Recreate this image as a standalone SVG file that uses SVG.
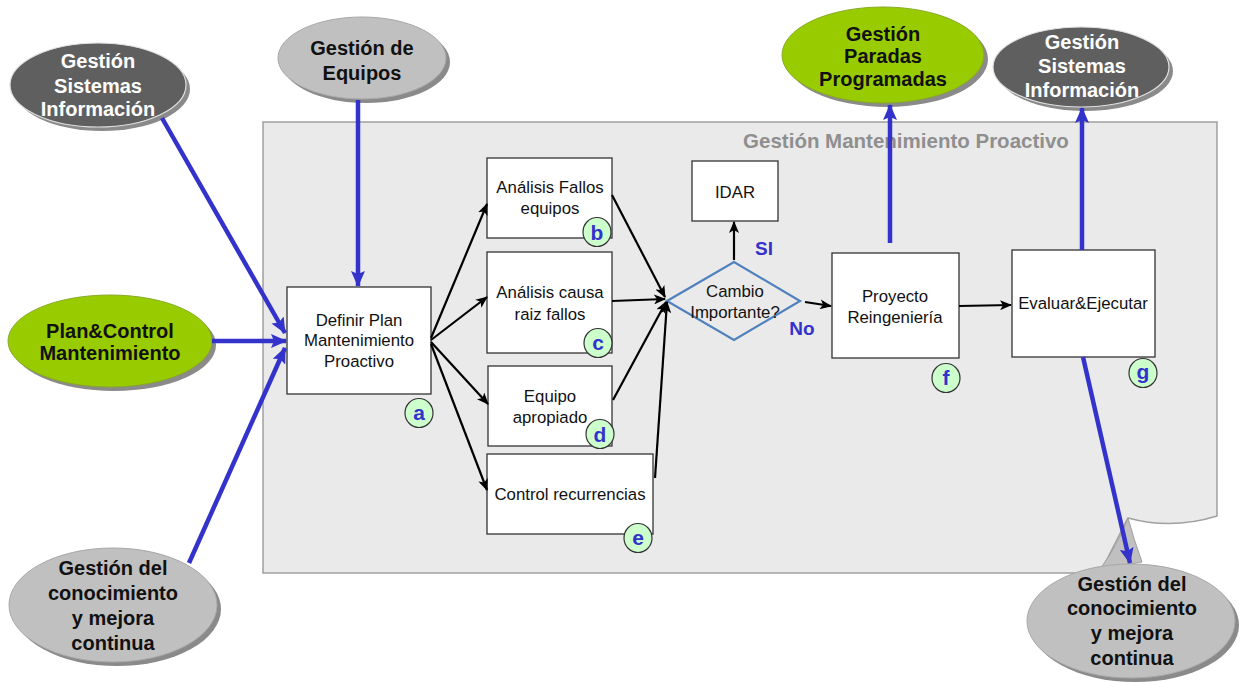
<svg xmlns="http://www.w3.org/2000/svg" width="1243" height="682" viewBox="0 0 1243 682">
<defs>
<style>
.box{fill:#fff;stroke:#333;stroke-width:1.3}
.bt{font-family:"Liberation Sans",Arial,sans-serif;font-size:16.8px;fill:#111;text-anchor:middle}
.et{font-family:"Liberation Sans",Arial,sans-serif;font-size:20px;font-weight:bold;text-anchor:middle}
.w{fill:#fff}
.k{fill:#111}
.sh{fill:#8a8a8a}
.dk{fill:#5f5f5f;stroke:#e0e0e0;stroke-width:1.2}
.lg{fill:#c0c0c0;stroke:#a8a8a8;stroke-width:1}
.gr{fill:#99cc00;stroke:#88aa22;stroke-width:1}
.lc{fill:#ccffcc;stroke:#333;stroke-width:1.2}
.lt{font-family:"Liberation Sans",Arial,sans-serif;font-size:21px;font-weight:bold;fill:#3333cc;text-anchor:middle}
.sn{font-family:"Liberation Sans",Arial,sans-serif;font-size:19px;font-weight:bold;fill:#3333cc;text-anchor:middle}
.ba{stroke:#000;stroke-width:2.2;fill:none;marker-end:url(#ah)}
.bl{stroke:#3333cc;stroke-width:4.5;fill:none;marker-end:url(#bh)}
</style>
<marker id="ah" viewBox="0 0 12 10" refX="11" refY="5" markerWidth="12" markerHeight="10" markerUnits="userSpaceOnUse" orient="auto"><path d="M0,0 L12,5 L0,10 L3,5 z" fill="#000"/></marker>
<marker id="bh" viewBox="0 0 16 14" refX="15" refY="7" markerWidth="16" markerHeight="14" markerUnits="userSpaceOnUse" orient="auto"><path d="M0,0 L16,7 L0,14 L3,7 z" fill="#3333cc"/></marker>
</defs>

<g id="panel">
<path d="M263,122 H1217 V516 Q1172,530 1128,518 L1100,573 H263 Z" fill="#eaeaea" stroke="#a0a0a0" stroke-width="1.5"/>
<path d="M1128,518 Q1118,545 1100,569 L1142,562 Q1134,540 1128,518 Z" fill="#c0c0c0" stroke="#a0a0a0" stroke-width="1"/>
<text x="906" y="148" font-family="Liberation Sans,Arial,sans-serif" font-size="20.5px" font-weight="bold" fill="#8f8f8f" text-anchor="middle">Gestión Mantenimiento Proactivo</text>
</g>

<g id="gsi-left">
<ellipse cx="102" cy="89" rx="88" ry="42" class="sh"/>
<ellipse cx="98" cy="85" rx="88" ry="42" class="dk"/>
<text class="et w" x="98" y="68">Gestión</text>
<text class="et w" x="98" y="93">Sistemas</text>
<text class="et w" x="98" y="116">Información</text>
</g>

<g id="gestion-equipos">
<ellipse cx="366" cy="62" rx="84" ry="41" class="sh"/>
<ellipse cx="362" cy="58" rx="84" ry="41" class="lg"/>
<text class="et k" x="362" y="55">Gestión de</text>
<text class="et k" x="362" y="80">Equipos</text>
</g>

<g id="plan-control">
<ellipse cx="114" cy="345" rx="102" ry="46" class="sh"/>
<ellipse cx="110" cy="341" rx="102" ry="46" class="gr"/>
<text class="et k" x="110" y="338" font-size="18.5px">Plan&amp;Control</text>
<text class="et k" x="110" y="360" font-size="18.5px">Mantenimiento</text>
</g>

<g id="conocimiento-left">
<ellipse cx="117" cy="609" rx="104" ry="57" class="sh"/>
<ellipse cx="113" cy="605" rx="104" ry="57" class="lg"/>
<text class="et k" x="113" y="575">Gestión del</text>
<text class="et k" x="113" y="600">conocimiento</text>
<text class="et k" x="113" y="625">y mejora</text>
<text class="et k" x="113" y="650">continua</text>
</g>

<g id="paradas">
<ellipse cx="887" cy="59" rx="101" ry="48" class="sh"/>
<ellipse cx="883" cy="55" rx="101" ry="48" class="gr"/>
<text class="et k" x="883" y="41">Gestión</text>
<text class="et k" x="883" y="63">Paradas</text>
<text class="et k" x="883" y="86">Programadas</text>
</g>

<g id="gsi-right">
<ellipse cx="1085" cy="71" rx="88" ry="40" class="sh"/>
<ellipse cx="1081" cy="67" rx="88" ry="40" class="dk"/>
<text class="et w" x="1082" y="49">Gestión</text>
<text class="et w" x="1082" y="73">Sistemas</text>
<text class="et w" x="1082" y="97">Información</text>
</g>

<g id="conocimiento-right">
<ellipse cx="1135" cy="625" rx="104" ry="57" class="sh"/>
<ellipse cx="1131" cy="621" rx="104" ry="57" class="lg"/>
<text class="et k" x="1132" y="591">Gestión del</text>
<text class="et k" x="1132" y="615">conocimiento</text>
<text class="et k" x="1132" y="640">y mejora</text>
<text class="et k" x="1132" y="665">continua</text>
</g>

<g id="definir">
<rect class="box" x="287" y="287" width="144" height="107"/>
<text class="bt" x="359" y="326">Definir Plan</text>
<text class="bt" x="359" y="346">Mantenimiento</text>
<text class="bt" x="359" y="367">Proactivo</text>
<ellipse class="lc" cx="419" cy="413" rx="14" ry="14.5"/>
<text class="lt" x="419" y="420">a</text>
</g>

<g id="fallos">
<rect class="box" x="487" y="158" width="125" height="80"/>
<text class="bt" x="550" y="193">Análisis Fallos</text>
<text class="bt" x="550" y="214">equipos</text>
<ellipse class="lc" cx="597" cy="232" rx="14" ry="14.5"/>
<text class="lt" x="597" y="240">b</text>
</g>

<g id="causa">
<rect class="box" x="487" y="252" width="125" height="101"/>
<text class="bt" x="550" y="298">Análisis causa</text>
<text class="bt" x="550" y="320">raiz fallos</text>
<ellipse class="lc" cx="598" cy="343" rx="14" ry="14.5"/>
<text class="lt" x="598" y="350">c</text>
</g>

<g id="equipo">
<rect class="box" x="488" y="366" width="124" height="80"/>
<text class="bt" x="550" y="402">Equipo</text>
<text class="bt" x="550" y="423">apropiado</text>
<ellipse class="lc" cx="600" cy="434" rx="14" ry="14.5"/>
<text class="lt" x="600" y="442">d</text>
</g>

<g id="control">
<rect class="box" x="487" y="454" width="166" height="80"/>
<text class="bt" x="570" y="500">Control recurrencias</text>
<ellipse class="lc" cx="638" cy="538" rx="14" ry="14.5"/>
<text class="lt" x="638" y="545">e</text>
</g>

<g id="idar">
<rect class="box" x="692" y="161" width="86" height="60"/>
<text class="bt" x="735" y="198">IDAR</text>
</g>

<g id="cambio">
<polygon points="667,301 734,262 800,301 734,340" fill="none" stroke="#4f81bd" stroke-width="2.2"/>
<text class="bt" x="735" y="297">Cambio</text>
<text class="bt" x="735" y="318">Importante?</text>
</g>

<g id="proyecto">
<rect class="box" x="832" y="253" width="127" height="105"/>
<text class="bt" x="895" y="302">Proyecto</text>
<text class="bt" x="895" y="323">Reingeniería</text>
<ellipse class="lc" cx="946" cy="378" rx="14" ry="14.5"/>
<text class="lt" x="946" y="385">f</text>
</g>

<g id="evaluar">
<rect class="box" x="1012" y="250" width="143" height="107"/>
<text class="bt" x="1083" y="309">Evaluar&amp;Ejecutar</text>
<ellipse class="lc" cx="1143" cy="373" rx="14" ry="14.5"/>
<text class="lt" x="1143" y="379">g</text>
</g>

<g id="connectors">
<line class="ba" x1="431" y1="338" x2="487" y2="204"/>
<line class="ba" x1="431" y1="340" x2="487" y2="297"/>
<line class="ba" x1="431" y1="342" x2="488" y2="404"/>
<line class="ba" x1="431" y1="344" x2="487" y2="490"/>
<line class="ba" x1="612" y1="195" x2="665" y2="297"/>
<line class="ba" x1="612" y1="301" x2="665" y2="299"/>
<line class="ba" x1="613" y1="400" x2="666" y2="302"/>
<line class="ba" x1="655" y1="478" x2="667" y2="302"/>
<line class="ba" x1="734" y1="260" x2="734" y2="222"/>
<line class="ba" x1="805" y1="302" x2="831" y2="306"/>
<line class="ba" x1="959" y1="306" x2="1011" y2="305"/>
<line class="bl" x1="162" y1="118" x2="285" y2="333"/>
<line class="bl" x1="358" y1="100" x2="358" y2="286"/>
<line class="bl" x1="212" y1="341" x2="286" y2="341"/>
<line class="bl" x1="189" y1="563" x2="285" y2="348"/>
<line class="bl" x1="890" y1="243" x2="890" y2="105"/>
<line class="bl" x1="1082" y1="250" x2="1082" y2="108"/>
<line class="bl" x1="1083" y1="357" x2="1130" y2="563"/>
<text class="sn" x="764" y="255">SI</text>
<text class="sn" x="802" y="335">No</text>
</g>
</svg>
